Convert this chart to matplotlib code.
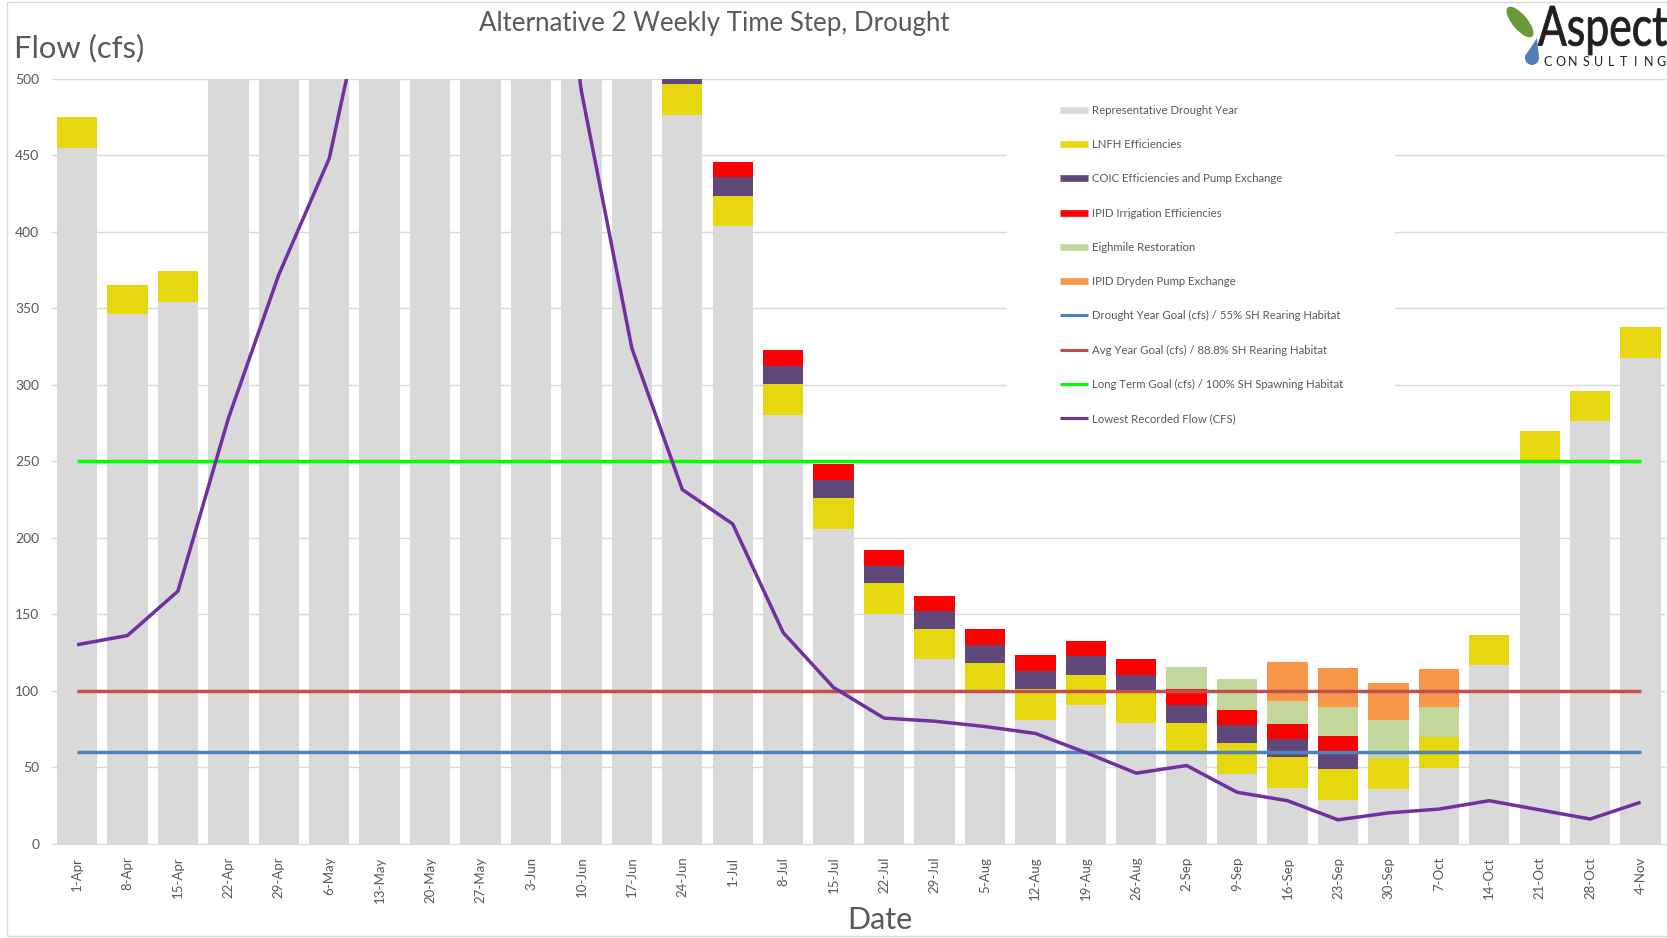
import matplotlib
matplotlib.use('Agg')
import matplotlib.pyplot as plt
import numpy as np
from matplotlib.lines import Line2D
from matplotlib.patches import Rectangle, Ellipse, Circle, Polygon, PathPatch
from matplotlib.textpath import TextPath
from matplotlib.font_manager import FontProperties
from matplotlib.transforms import Affine2D

# ---- data (cfs) ----
weeks = ['1-Apr', '8-Apr', '15-Apr', '22-Apr', '29-Apr', '6-May', '13-May', '20-May',
         '27-May', '3-Jun', '10-Jun', '17-Jun', '24-Jun', '1-Jul', '8-Jul', '15-Jul',
         '22-Jul', '29-Jul', '5-Aug', '12-Aug', '19-Aug', '26-Aug', '2-Sep', '9-Sep',
         '16-Sep', '23-Sep', '30-Sep', '7-Oct', '14-Oct', '21-Oct', '28-Oct', '4-Nov']

drought_year = [455, 346, 354, 540, 620, 720, 800, 860, 880, 850, 760, 620,
                476.5, 404, 280.5, 206, 150, 120.5, 98.5, 81, 90.5, 78.5, 59.5, 45.5,
                36, 28.5, 35.5, 49.5, 116.5, 249.5, 276, 317.5]
lnfh = [20, 19.5, 20.5, 20, 20, 20, 20, 20, 20, 20, 20, 20,
        20, 19.7, 20, 20, 20.5, 19.5, 19.5, 20, 20, 20, 19.5, 20,
        20.3, 20, 20, 20, 20, 20, 20, 20]
coic = [0, 0, 0, 0, 0, 0, 0, 0, 0, 0, 0, 0,
        12, 12, 12, 12, 11, 12, 11.5, 12, 12, 11.5, 11.5, 12,
        11.8, 11.5, 0, 0, 0, 0, 0, 0]
ipid_irrigation = [0, 0, 0, 0, 0, 0, 0, 0, 0, 0, 0, 0,
                   10, 10, 10, 10.5, 10.5, 10, 10.5, 10, 10, 10.5, 10.5, 10,
                   10.3, 10.5, 0, 0, 0, 0, 0, 0]
eightmile = [0] * 22 + [14.5, 20, 15, 19, 25, 20, 0, 0, 0, 0]
dryden = [0] * 24 + [25, 25, 24.5, 24.5, 0, 0, 0, 0]

drought_goal = [60] * len(weeks)
avg_goal = [100] * len(weeks)
long_term_goal = [250] * len(weeks)
lowest_flow = [130, 136, 165, 278, 372, 448, 600, 760, 800, 740, 492, 324,
               231.5, 209, 138, 102, 82, 80, 76.5, 72, 59.5, 46, 51, 33.5,
               28, 15.5, 20, 22.5, 28, 22, 16, 27]

W, H = 1667, 938
TXT = '#595959'
plt.rcParams['font.family'] = ['Lato', 'DejaVu Sans']


def fxy(x, y):
    # pixel position (from top-left) -> figure fraction
    return x / W, 1 - y / H


fig = plt.figure(figsize=(W / 100, H / 100), dpi=100)
ax = fig.add_axes([51.8 / W, 1 - 843.5 / H, 1614 / W, 764.5 / H])

x = np.arange(len(weeks))
stack = [
    (drought_year, '#d9d9d9', 'Representative Drought Year'),
    (lnfh, '#e6d70f', 'LNFH Efficiencies'),
    (coic, '#60497a', 'COIC Efficiencies and Pump Exchange'),
    (ipid_irrigation, '#ff0000', 'IPID Irrigation Efficiencies'),
    (eightmile, '#c3d69b', 'Eighmile Restoration'),
    (dryden, '#f79646', 'IPID Dryden Pump Exchange'),
]
lines = [
    (drought_goal, '#4f81bd', 'Drought Year Goal (cfs) / 55% SH Rearing Habitat'),
    (avg_goal, '#c0504d', 'Avg Year Goal (cfs) / 88.8% SH Rearing Habitat'),
    (long_term_goal, '#00ff00', 'Long Term Goal (cfs) / 100% SH Spawning Habitat'),
    (lowest_flow, '#7030a0', 'Lowest Recorded Flow (CFS)'),
]

bottom = np.zeros(len(weeks))
for vals, color, label in stack:
    vals = np.array(vals, dtype=float)
    ax.bar(x, vals, 0.8, bottom=bottom, color=color, zorder=2)
    bottom += vals

for i, (vals, color, label) in enumerate(lines):
    ax.plot(x, vals, color=color, lw=2.5, solid_capstyle='butt', zorder=3 + i)

ax.set_xlim(-0.5, len(weeks) - 0.5)
ax.set_ylim(0, 500)
ax.set_yticks(np.arange(0, 501, 50))
ax.set_xticks(x)
ax.set_xticklabels(weeks, rotation=90)
ax.grid(axis='y', color='#d9d9d9', lw=1)
ax.set_axisbelow(True)
ax.tick_params(axis='y', length=0, pad=9, labelsize=10, labelcolor=TXT)
ax.tick_params(axis='x', length=0, pad=9.5, labelsize=9.5, labelcolor=TXT)
for s in ['top', 'right', 'left']:
    ax.spines[s].set_visible(False)
ax.spines['bottom'].set_color('#d9d9d9')

# white box behind the legend hides the gridlines
x0, y0 = fxy(1007, 448)
ax.add_patch(Rectangle((x0, y0), (1395 - 1007) / W, (448 - 88) / H,
                       transform=fig.transFigure, fc='white', ec='none', zorder=1))

handles = [Line2D([], [], color=c, lw=4.8, solid_capstyle='butt') for _, c, _ in stack]
handles += [Line2D([], [], color=c, lw=2.2, solid_capstyle='butt') for _, c, _ in lines]
labels = [l for _, _, l in stack] + [l for _, _, l in lines]
ax.legend(handles, labels, loc='upper left', bbox_to_anchor=fxy(1060, 105),
          bbox_transform=fig.transFigure, frameon=False, borderpad=0, borderaxespad=0,
          handlelength=2.5, handletextpad=0.3, labelspacing=2.04, fontsize=8.2,
          labelcolor=TXT)

fig.text(*fxy(714, 23), 'Alternative 2 Weekly Time Step, Drought', ha='center', va='center',
         fontsize=18.6, color=TXT)
fig.text(*fxy(14, 48), 'Flow (cfs)', ha='left', va='center', fontsize=22.3, color=TXT)
fig.text(*fxy(880, 920), 'Date', ha='center', va='center', fontsize=22, color=TXT)

# logo, drawn in pixel coordinates
lax = fig.add_axes([1495 / W, 1 - 82 / H, 172 / W, 82 / H])
lax.set_xlim(1495, 1667)
lax.set_ylim(82, 0)
lax.axis('off')
lax.add_patch(Ellipse((1520, 22), 38, 15, angle=50, fc='#6b9b37', ec='none'))
lax.add_patch(Circle((1532, 58), 7, fc='#4f7fb5', ec='none'))
lax.add_patch(Polygon([(1525.2, 56), (1538.8, 56), (1537, 38)], fc='#4f7fb5', ec='none'))
tp = TextPath((0, 0), 'Aspect', size=40, prop=FontProperties(family='Lato'))
bb = tp.get_extents()
tr = Affine2D().translate(-bb.x0, -bb.y0).scale(129 / bb.width, -49 / bb.height).translate(1538, 55)
lax.add_patch(PathPatch(tr.transform_path(tp), fc='#231f20', ec='#231f20', lw=0.6))
for cx, ch in zip(np.linspace(1548, 1661, 10), 'CONSULTING'):
    lax.text(cx, 62.5, ch, ha='center', va='center', fontsize=9, color='#231f20')

bx, by = fxy(7, 936)
fig.add_artist(Rectangle((bx, by), (1700 - 7) / W, (936 - 2.5) / H, transform=fig.transFigure,
                         fill=False, ec='#d9d9d9', lw=1))

fig.savefig('out.png', dpi=100)
